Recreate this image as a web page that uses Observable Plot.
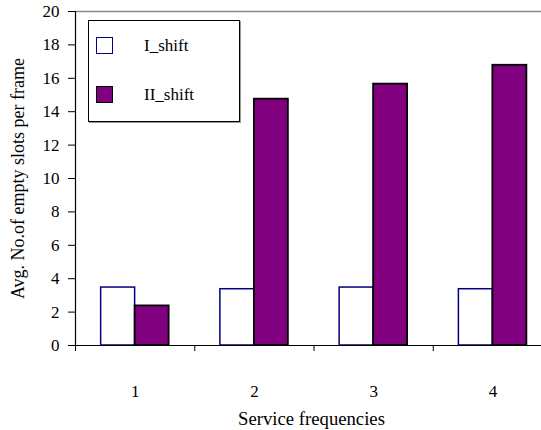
<!DOCTYPE html>
<html>
<head>
<meta charset="utf-8">
<script src="https://cdn.jsdelivr.net/npm/d3@7"></script>
<script src="https://cdn.jsdelivr.net/npm/@observablehq/plot@0.6"></script>
<style>
  html, body { margin: 0; padding: 0; background: #fff; overflow: hidden; }
  #wrap { position: relative; width: 541px; height: 430px; font-family: "Liberation Serif", serif; }
  #wrap svg, #wrap svg text, #wrap svg g { font-family: "Liberation Serif", serif !important; }
  #legend { position: absolute; left: 88px; top: 20px; width: 152px; height: 102px; border: 1.5px solid #000; box-shadow: 1px 1px 0 #999; background: #fff; box-sizing: border-box; font-family: "Liberation Serif", serif; }
  .item { position: absolute; left: 7px; display: flex; align-items: center; font-size: 17px; color: #000; line-height: 17px; }
  .sw { width: 17px; height: 17px; box-sizing: border-box; margin-right: 31px; }
</style>
</head>
<body>
<div id="wrap"></div>
<script>
const categories = [1, 2, 3, 4];
const seriesNames = ["I_shift", "II_shift"];
const iShift = [3.47, 3.37, 3.47, 3.37];
const iiShift = [2.37, 14.75, 15.65, 16.78];
const yTicks = [0, 2, 4, 6, 8, 10, 12, 14, 16, 18, 20];

const barW = 0.285;
const dataI = categories.map((c, i) => ({cat: c, value: iShift[i]}));
const dataII = categories.map((c, i) => ({cat: c, value: iiShift[i]}));

const chart = Plot.plot({
  width: 541,
  height: 430,
  marginLeft: 75,
  marginRight: 0,
  marginTop: 11,
  marginBottom: 85,
  style: {fontSize: "17px", color: "#000", background: "#fff", overflow: "visible"},
  x: {type: "linear", domain: [0.5, 4.5], range: [75, 552]},
  y: {domain: [0, 20]},
  marks: [
    Plot.ruleY([20], {stroke: "#888", strokeWidth: 1.5}),
    Plot.rectY(dataI, {x1: d => d.cat - barW, x2: d => d.cat, y: "value", fill: "#fff", stroke: "#000080", strokeWidth: 1.5}),
    Plot.rectY(dataII, {x1: d => d.cat, x2: d => d.cat + barW, y: "value", fill: "#800080", stroke: "#000", strokeWidth: 1.8}),
    Plot.ruleY([0], {stroke: "#000", strokeWidth: 1.2}),
    Plot.ruleX([0.5], {stroke: "#000", strokeWidth: 1.2, y1: 0, y2: 20}),
    Plot.axisY({ticks: yTicks, tickSize: 7, tickPadding: 9, label: null, fontSize: 17}),
    Plot.axisX({ticks: [0.5, 1.5, 2.5, 3.5], tickSize: 6, tickFormat: () => "", label: null}),
    Plot.axisX({ticks: categories, tickSize: 0, tickPadding: 39, tickFormat: d => String(d), label: null, fontSize: 17}),
    Plot.text(["Service frequencies"], {frameAnchor: "bottom", dy: 79, dx: 3, fontSize: 18.7, fill: "#000"}),
    Plot.text(["Avg. No.of empty slots per frame"], {frameAnchor: "left", textAnchor: "middle", dx: -57, dy: 0, rotate: -90, fontSize: 18, fill: "#000"})
  ]
});

const wrap = document.getElementById("wrap");
wrap.appendChild(chart);

const legend = document.createElement("div");
legend.id = "legend";
const styles = [
  {fill: "#fff", stroke: "#000080", top: 16},
  {fill: "#800080", stroke: "#000", top: 65}
];
seriesNames.forEach((name, i) => {
  const item = document.createElement("div");
  item.className = "item";
  item.style.top = styles[i].top + "px";
  const sw = document.createElement("div");
  sw.className = "sw";
  sw.style.background = styles[i].fill;
  sw.style.border = "1.5px solid " + styles[i].stroke;
  item.appendChild(sw);
  const t = document.createElement("span");
  t.textContent = name;
  item.appendChild(t);
  legend.appendChild(item);
});
wrap.appendChild(legend);
</script>
</body>
</html>
